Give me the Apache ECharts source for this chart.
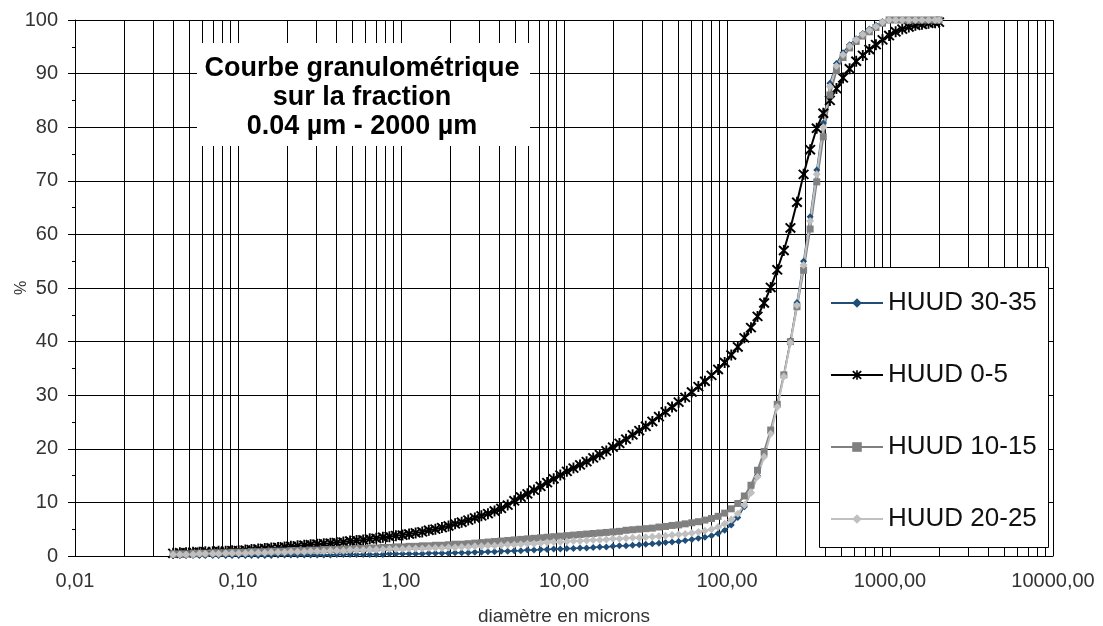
<!DOCTYPE html>
<html>
<head>
<meta charset="utf-8">
<script src="https://cdn.jsdelivr.net/npm/echarts@6/dist/echarts.min.js"></script>
<style>
html,body{margin:0;padding:0;background:#fff;}
#c{width:1103px;height:626px;}
</style>
</head>
<body>
<div id="c"></div>
<script>
// Diameter classes (µm)
var diameters = [
0.040,0.044,0.048,0.053,0.058,0.063,0.070,0.076,0.084,0.092,
0.101,0.111,0.121,0.133,0.146,0.160,0.176,0.193,0.211,0.232,
0.255,0.279,0.306,0.336,0.369,0.404,0.443,0.487,0.534,0.586,
0.643,0.705,0.774,0.849,0.931,1.022,1.121,1.230,1.350,1.481,
1.625,1.783,1.957,2.147,2.356,2.585,2.837,3.113,3.416,3.748,
4.113,4.514,4.953,5.435,5.964,6.544,7.181,7.880,8.647,9.489,
10.41,11.43,12.54,13.76,15.10,16.57,18.18,19.95,21.89,24.02,
26.36,28.93,31.74,34.83,38.22,41.94,46.02,50.50,55.42,60.81,
66.73,73.23,80.35,88.17,96.76,106.2,116.5,127.8,140.3,153.9,
168.9,185.4,203.4,223.2,245.0,268.8,295.0,323.7,355.2,389.8,
427.8,469.4,515.1,565.3,620.3,680.7,747.0,819.7,899.5,987.1,
1083,1189,1304,1431,1571,1723,1891,2000];

var huud3035 = [
0.1,0.1,0.1,0.1,0.1,0.1,0.1,0.1,0.1,0.1,
0.1,0.1,0.1,0.1,0.1,0.1,0.2,0.2,0.2,0.2,
0.2,0.2,0.2,0.2,0.2,0.3,0.3,0.3,0.3,0.3,
0.3,0.3,0.3,0.4,0.4,0.4,0.4,0.4,0.4,0.5,
0.5,0.5,0.5,0.6,0.6,0.6,0.7,0.7,0.8,0.8,
0.9,0.9,1.0,1.0,1.1,1.1,1.2,1.2,1.3,1.3,
1.4,1.4,1.5,1.5,1.6,1.7,1.7,1.8,1.9,1.9,
2.0,2.1,2.2,2.3,2.4,2.5,2.6,2.7,2.9,3.1,
3.3,3.5,3.8,4.2,4.8,5.8,7.2,9.2,11.8,15.0,
18.8,23.0,28.0,33.7,40.2,47.3,55.0,63.3,72.0,80.8,
88.2,91.9,93.9,95.4,96.5,97.5,98.3,99.0,99.7,100,
100,100,100,100,100,100,100,100];

var huud05 = [
0.5,0.6,0.6,0.7,0.7,0.8,0.8,0.9,0.9,1.0,
1.0,1.1,1.2,1.3,1.4,1.5,1.6,1.7,1.8,1.9,
2.0,2.1,2.2,2.3,2.4,2.5,2.6,2.8,2.9,3.0,
3.2,3.3,3.5,3.6,3.8,3.9,4.1,4.3,4.5,4.8,
5.0,5.3,5.6,6.0,6.3,6.7,7.1,7.5,7.9,8.4,
8.9,9.5,10.3,11.0,11.6,12.3,13.0,13.7,14.4,15.1,
15.8,16.4,17.0,17.6,18.3,18.9,19.6,20.3,21.0,21.8,
22.6,23.4,24.2,25.1,26.0,26.9,27.8,28.7,29.6,30.6,
31.6,32.6,33.7,34.8,36.1,37.5,39.0,40.7,42.6,44.7,
47.2,50.1,53.4,57.0,61.2,66.0,71.2,75.8,79.8,82.6,
85.0,87.2,89.2,90.9,92.3,93.4,94.5,95.4,96.3,97.1,
97.8,98.3,98.7,99.0,99.2,99.4,99.5,99.6];

var huud1015 = [
0.4,0.4,0.4,0.5,0.5,0.5,0.6,0.6,0.6,0.7,
0.7,0.7,0.8,0.8,0.8,0.9,0.9,0.9,1.0,1.0,
1.0,1.1,1.1,1.2,1.2,1.2,1.3,1.3,1.4,1.4,
1.5,1.5,1.6,1.6,1.7,1.7,1.8,1.8,1.9,1.9,
2.0,2.0,2.1,2.2,2.2,2.3,2.4,2.5,2.6,2.7,
2.8,2.9,3.0,3.1,3.2,3.3,3.4,3.5,3.6,3.7,
3.8,3.9,4.0,4.1,4.2,4.3,4.4,4.5,4.6,4.8,
4.9,5.0,5.1,5.2,5.4,5.5,5.7,5.8,6.0,6.2,
6.4,6.7,7.0,7.4,8.0,8.8,9.8,11.2,13.2,16.0,
19.5,23.5,28.3,33.8,40.0,46.5,53.3,61.0,69.8,78.2,
86.0,90.6,93.0,94.8,96.0,97.0,97.8,98.6,99.4,100,
100,100,100,100,100,100,100,100];

var huud2025 = [
0.3,0.3,0.3,0.3,0.4,0.4,0.4,0.4,0.5,0.5,
0.5,0.5,0.6,0.6,0.6,0.7,0.7,0.7,0.8,0.8,
0.8,0.9,0.9,0.9,1.0,1.0,1.0,1.1,1.1,1.1,
1.2,1.2,1.2,1.3,1.3,1.3,1.4,1.4,1.4,1.5,
1.5,1.5,1.6,1.6,1.7,1.7,1.8,1.8,1.9,1.9,
2.0,2.1,2.1,2.2,2.3,2.3,2.4,2.5,2.6,2.6,
2.7,2.8,2.8,2.9,3.0,3.0,3.1,3.2,3.2,3.3,
3.4,3.4,3.5,3.6,3.7,3.8,3.9,4.0,4.1,4.3,
4.5,4.7,5.0,5.4,6.0,6.8,7.9,9.5,11.8,14.8,
18.5,22.8,27.8,33.5,39.8,46.8,54.3,62.5,71.2,80.0,
87.6,91.4,93.5,95.1,96.3,97.3,98.1,98.8,99.6,100,
100,100,100,100,100,100,100,100];

var seriesNames = ['HUUD 30-35','HUUD 0-5','HUUD 10-15','HUUD 20-25'];
var xDecades = [0.01,0.1,1,10,100,1000,10000];
var minorMultipliers = [2,3,4,5,6,7,8,9];
var titleLines = ['Courbe granulométrique','sur la fraction','0.04 µm - 2000 µm'];

function pairs(ys){ return diameters.map(function(d,i){ return [d, ys[i]]; }); }

var minorLines = [];
xDecades.slice(0,-1).forEach(function(dec){
  minorMultipliers.forEach(function(m){ minorLines.push({xAxis: +(dec*m).toPrecision(6)}); });
});

var FONT = '"Liberation Sans", Arial, sans-serif';
var starPath = 'path://M4.2,0H5.8V10H4.2Z M0.3,1.5L1.5,0.3L9.7,8.5L8.5,9.7Z M8.5,0.3L9.7,1.5L1.5,9.7L0.3,8.5Z';

var chart = echarts.init(document.getElementById('c'), null, {renderer:'canvas'});
chart.setOption({
  animation:false,
  backgroundColor:'#fff',
  grid:{left:75, right:50, top:20, bottom:70, containLabel:false, outerBoundsMode:'none'},
  xAxis:{
    type:'log', logBase:10, min:0.01, max:10000, splitNumber:6,
    name:'diamètre en microns', nameLocation:'middle', nameGap:51,
    nameTextStyle:{fontFamily:FONT, fontSize:19, color:'#333'},
    axisLine:{show:true, lineStyle:{color:'#000', width:1}},
    axisTick:{show:false},
    axisLabel:{fontFamily:FONT, fontSize:20, color:'#333', margin:15,
      formatter:function(v){ return Number(v).toFixed(2).replace('.', ','); }},
    splitLine:{show:true, lineStyle:{color:'#000', width:1}}
  },
  yAxis:{
    type:'value', min:0, max:100, interval:10,
    name:'%', nameLocation:'middle', nameGap:45, nameRotate:90, nameMoveOverlap:false,
    nameTextStyle:{fontFamily:FONT, fontSize:16, color:'#333'},
    axisLine:{show:true, lineStyle:{color:'#000', width:1}},
    axisTick:{show:true, length:7, lineStyle:{color:'#000'}},
    minorTick:{show:true, splitNumber:2, length:3, lineStyle:{color:'#000'}},
    axisLabel:{fontFamily:FONT, fontSize:20, color:'#333', margin:17},
    splitLine:{show:true, lineStyle:{color:'#000', width:1}}
  },
  legend:{
    orient:'vertical', left:830, top:290, padding:0, itemWidth:52, itemHeight:12, itemGap:46,
    data:seriesNames, z:5,
    textStyle:{fontFamily:FONT, fontSize:26, color:'#111', lineHeight:24}
  },
  graphic:[
    {type:'rect', z:2, shape:{x:197, y:43, width:333, height:103}, style:{fill:'#fff'}},
    {type:'rect', z:2, shape:{x:819.5, y:267.5, width:229, height:280}, style:{fill:'#fff', stroke:'#000', lineWidth:1}},
    {type:'text', z:3, x:362, y:54, style:{text:titleLines.join('\n'), fill:'#000',
      font:'bold 27px "Liberation Sans", Arial, sans-serif', fontSize:27, fontWeight:'bold', fontFamily:FONT,
      align:'center', textAlign:'center', verticalAlign:'top', lineHeight:29}}
  ],
  series:[
    {type:'line', data:[], silent:true, z:1,
      markLine:{silent:true, z:1, symbol:['none','none'], label:{show:false},
        lineStyle:{color:'#000', width:1, type:'solid'}, emphasis:{disabled:true}, data:minorLines}},
    {name:seriesNames[0], type:'line', z:3, data:pairs(huud3035), symbol:'diamond', symbolSize:7,
      lineStyle:{color:'#1f4e79', width:1.5}, itemStyle:{color:'#1f4e79'}},
    {name:seriesNames[1], type:'line', z:3, data:pairs(huud05), symbol:starPath, symbolSize:11,
      lineStyle:{color:'#000', width:2}, itemStyle:{color:'#000'}},
    {name:seriesNames[2], type:'line', z:3, data:pairs(huud1015), symbol:'rect', symbolSize:7,
      lineStyle:{color:'#808080', width:2}, itemStyle:{color:'#808080'}},
    {name:seriesNames[3], type:'line', z:3, data:pairs(huud2025), symbol:'diamond', symbolSize:8,
      lineStyle:{color:'#c0c0c0', width:2}, itemStyle:{color:'#c0c0c0'}}
  ]
});
</script>
</body>
</html>
